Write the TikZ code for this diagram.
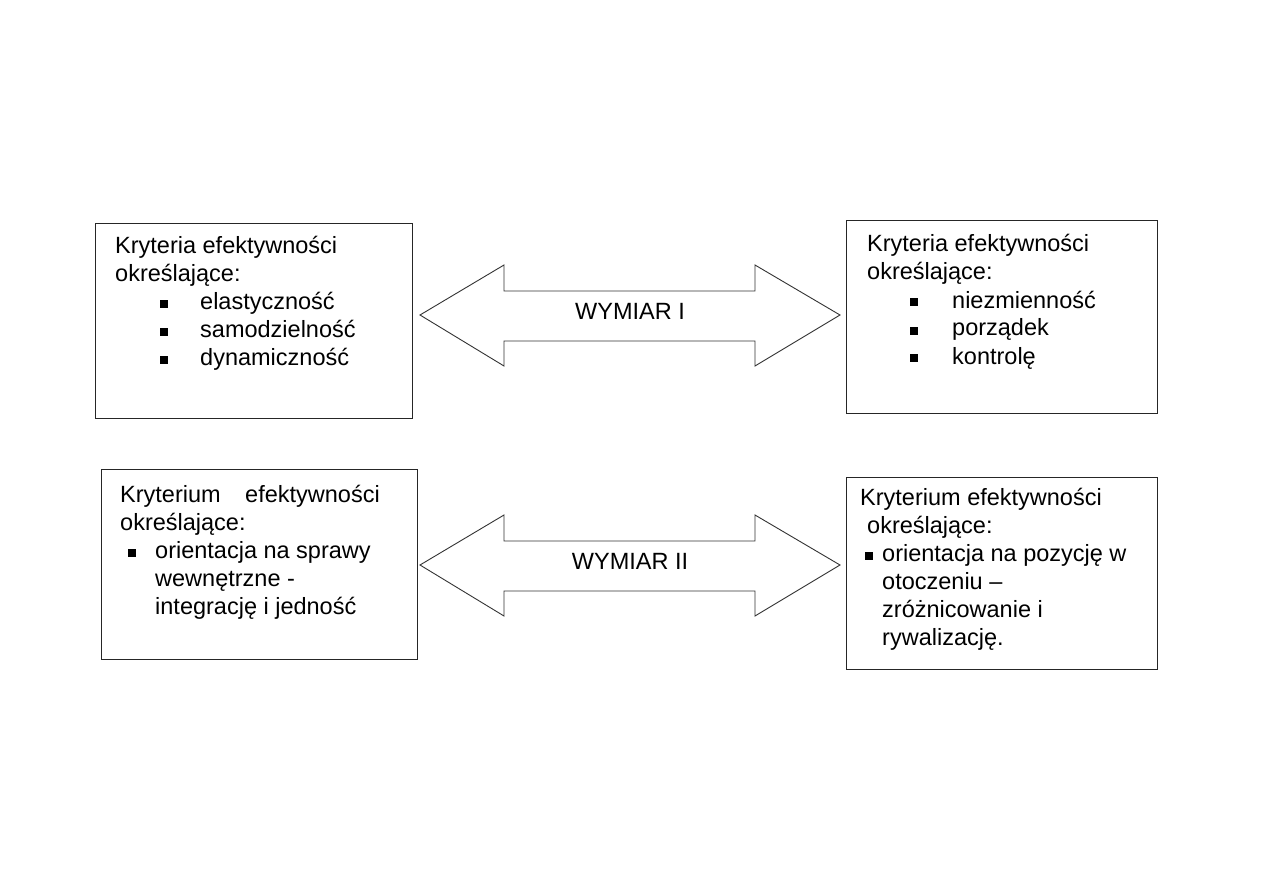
\documentclass[tikz,border=0pt]{standalone}
\usepackage{fontspec}
\setmainfont{Liberation Sans}
\usetikzlibrary{calc}

\newcommand{\sq}{\rule[1.5pt]{8pt}{8pt}}
\newcommand{\lista}[1]{\begin{tabular}[t]{@{}l@{}}#1\end{tabular}}

\tikzset{
  box/.style={
    draw=black!85,
    line width=1.1pt,
    fill=white,
    inner sep=0pt,
    anchor=north west
  },
  txt/.style={
    inner sep=0pt,
    anchor=base west,
    font=\fontsize{23.5}{28}\selectfont
  },
  bigarrow/.style={draw=black!80, line width=0.9pt, fill=white},
  wymiar/.style={inner sep=0pt, font=\fontsize{23.5}{28}\selectfont}
}

\begin{document}
\begin{tikzpicture}[x=1pt, y=-1pt]
  \useasboundingbox[fill=white] (0,0) rectangle (1263,893);

  % ramki
  \node[box, minimum width=317pt, minimum height=195pt] (lewy1) at (95,223) {};
  \node[box, minimum width=311pt, minimum height=193pt] (prawy1) at (846,220) {};
  \node[box, minimum width=316pt, minimum height=190pt] (lewy2) at (101,469) {};
  \node[box, minimum width=311pt, minimum height=192pt] (prawy2) at (846,477) {};

  % teksty
  \node[txt] (tlewy1) at (115,254) {\lista{
    Kryteria efektywności\\
    określające:\\
    \hspace*{45pt}\makebox[40pt][l]{\sq}elastyczność\\
    \hspace*{45pt}\makebox[40pt][l]{\sq}samodzielność\\
    \hspace*{45pt}\makebox[40pt][l]{\sq}dynamiczność}};
  \node[txt] (tprawy1) at (867,252) {\lista{
    Kryteria efektywności\\
    określające:\\
    \hspace*{43pt}\makebox[42pt][l]{\sq}niezmienność\\
    \hspace*{43pt}\makebox[42pt][l]{\sq}porządek\\
    \hspace*{43pt}\makebox[42pt][l]{\sq}kontrolę}};
  \node[txt] (tlewy2) at (120,502) {\lista{
    Kryterium\hspace{18pt} efektywności\\
    określające:\\
    \hspace*{8pt}\makebox[27pt][l]{\sq}orientacja na sprawy\\
    \hspace*{35pt}wewnętrzne -\\
    \hspace*{35pt}integrację i jedność}};
  \node[txt] (tprawy2) at (860,505) {\lista{
    Kryterium efektywności\\
    \hspace*{7pt}określające:\\
    \hspace*{5pt}\makebox[17pt][l]{\sq}orientacja na pozycję w\\
    \hspace*{22pt}otoczeniu –\\
    \hspace*{22pt}zróżnicowanie i\\
    \hspace*{22pt}rywalizację.}};

  % strzalki dwustronne
  \foreach \dy/\nazwa/\tekst in {0/wym1/WYMIAR I, 250/wym2/WYMIAR II} {
    \begin{scope}[shift={(0,\dy)}]
      \draw[bigarrow] (420,315) -- (504,265) -- (504,291) -- (755,291)
        -- (755,265) -- (840,315) -- (755,366) -- (755,341)
        -- (504,341) -- (504,366) -- cycle;
      \node[wymiar] (\nazwa) at (630,311) {\tekst};
    \end{scope}
  }
\end{tikzpicture}
\end{document}
